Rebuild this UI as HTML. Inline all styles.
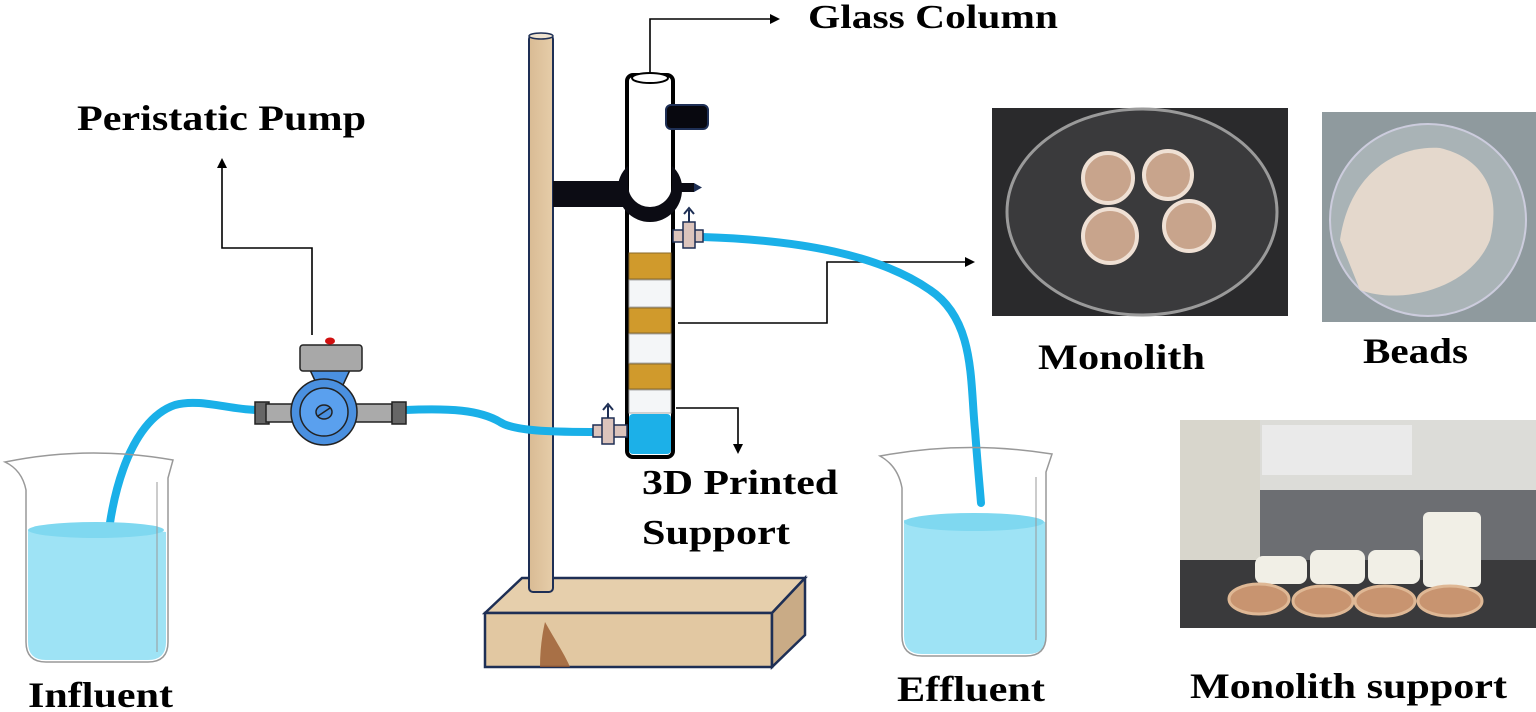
<!DOCTYPE html>
<html><head><meta charset="utf-8"><style>
html,body{margin:0;padding:0;background:#fff;width:1536px;height:712px;overflow:hidden}
svg{display:block}
text{font-family:"Liberation Serif",serif;font-weight:bold;fill:#000}
</style></head><body>
<svg width="1536" height="712" viewBox="0 0 1536 712" xmlns="http://www.w3.org/2000/svg">
<defs>
<marker id="ah" markerWidth="10" markerHeight="10" refX="8" refY="5" orient="auto" markerUnits="userSpaceOnUse">
<path d="M0,0 L10,5 L0,10 z" fill="#000"/></marker>
<linearGradient id="wood" x1="0" x2="1"><stop offset="0" stop-color="#d9bb94"/><stop offset="1" stop-color="#e6cda9"/></linearGradient>
</defs>

<!-- labels -->
<text x="808" y="28" font-size="34" textLength="250" lengthAdjust="spacingAndGlyphs">Glass Column</text>
<text x="77" y="130" font-size="36" textLength="289" lengthAdjust="spacingAndGlyphs">Peristatic Pump</text>
<text x="642" y="494" font-size="35" textLength="196" lengthAdjust="spacingAndGlyphs">3D Printed</text>
<text x="642" y="544" font-size="35" textLength="148" lengthAdjust="spacingAndGlyphs">Support</text>
<text x="1038" y="369" font-size="36" textLength="167" lengthAdjust="spacingAndGlyphs">Monolith</text>
<text x="1363" y="363" font-size="36" textLength="105" lengthAdjust="spacingAndGlyphs">Beads</text>
<text x="1190" y="698" font-size="36" textLength="317" lengthAdjust="spacingAndGlyphs">Monolith support</text>
<text x="28" y="707" font-size="36" textLength="145" lengthAdjust="spacingAndGlyphs">Influent</text>
<text x="897" y="701" font-size="36" textLength="148" lengthAdjust="spacingAndGlyphs">Effluent</text>

<!-- connectors -->
<g stroke="#000" stroke-width="1.6" fill="none">
<path d="M650,75 V19 H778" marker-end="url(#ah)"/>
<path d="M312,335 V248 H222 V160" marker-end="url(#ah)"/>
<path d="M678,323 H827 V262 H973" marker-end="url(#ah)"/>
<path d="M676,408 H738 V452" marker-end="url(#ah)"/>
</g>

<!-- base -->
<g stroke="#1e2f55" stroke-width="2.5">
<path d="M485,613 L522,578 L805,578 L772,613 Z" fill="#e6cfac"/>
<rect x="485" y="613" width="287" height="54" fill="#e2c8a2"/>
<path d="M772,613 L805,578 L805,635 L772,667 Z" fill="#c9ab86"/>
</g>
<path d="M545,622 C555,640 565,655 570,667 L540,667 C540,650 542,635 545,622Z" fill="#9a5a30" opacity="0.8"/>
<!--- pole -->
<rect x="529" y="35" width="24" height="557" rx="4" fill="url(#wood)" stroke="#1e2f55" stroke-width="2"/>
<ellipse cx="541" cy="36" rx="12" ry="3" fill="#efe3d0" stroke="#1e2f55" stroke-width="1.5"/>

<!-- clamp arm -->
<rect x="553" y="181" width="72" height="26" fill="#0c0c14"/>
<!-- column -->
<rect x="627" y="75" width="46" height="382" rx="6" fill="#fff" stroke="#000" stroke-width="4"/>
<ellipse cx="650" cy="78" rx="18" ry="5" fill="#fff" stroke="#000" stroke-width="2"/>
<rect x="666" y="105" width="42" height="24" rx="5" fill="#08080f" stroke="#1e2f55" stroke-width="2"/>
<!-- ring clamp -->
<path d="M618,190 A32,32 0 0 0 682,190 A32,30 0 0 0 672,166 L672,185 A22,22 0 0 1 628,185 L628,166 A32,30 0 0 0 618,190Z" fill="#0c0c14"/>
<rect x="676" y="183" width="18" height="9" fill="#0c0c14"/>
<path d="M694,183 L702,187.5 L694,192Z" fill="#1e2f55"/>
<!-- layers -->
<rect x="629" y="253" width="42" height="26" fill="#d09a2c" stroke="#8a6a2a"/>
<rect x="629" y="280" width="42" height="27" fill="#f4f6f8" stroke="#aaa"/>
<rect x="629" y="308" width="42" height="25" fill="#d09a2c" stroke="#8a6a2a"/>
<rect x="629" y="334" width="42" height="29" fill="#f4f6f8" stroke="#aaa"/>
<rect x="629" y="364" width="42" height="25" fill="#d09a2c" stroke="#8a6a2a"/>
<rect x="629" y="390" width="42" height="23" fill="#f4f6f8" stroke="#aaa"/>
<rect x="629" y="414" width="42" height="40" rx="4" fill="#1cb0e8"/>

<!-- tubing -->
<g stroke="#1ab0e8" stroke-width="8" fill="none" stroke-linecap="round">
<path d="M105,590 C105,500 130,420 175,405 C200,398 230,410 258,410"/>
<path d="M405,410 C450,408 480,410 500,422 C515,432 560,432 600,432"/>
<path d="M702,237 C800,240 880,255 930,290 C975,320 970,380 975,430 C978,470 980,490 981,503"/>
</g>
<!-- valves -->
<g fill="#dcc4bc" stroke="#1e2f55" stroke-width="1.5">
<rect x="593" y="425" width="34" height="12"/><rect x="602" y="418" width="12" height="26"/>
<rect x="673" y="230" width="30" height="12"/><rect x="683" y="222" width="12" height="26"/>
</g>
<path d="M608,418 V406 M603,410 L608,404 L613,410 M689,222 V210 M684,214 L689,208 L694,214" stroke="#1e2f55" stroke-width="2" fill="none"/>

<!-- pump -->
<g stroke="#222" stroke-width="1.5">
<rect x="255" y="402" width="14" height="22" fill="#666"/>
<rect x="266" y="404" width="40" height="18" fill="#aaa"/>
<rect x="344" y="404" width="48" height="18" fill="#aaa"/>
<rect x="392" y="402" width="14" height="22" fill="#666"/>
<path d="M310,370 L350,370 L343,385 L317,385Z" fill="#4a90e0"/>
<circle cx="324" cy="412" r="33" fill="#4a90e0"/>
<circle cx="324" cy="412" r="24" fill="#5aa0ee"/>
<ellipse cx="324" cy="412" rx="8" ry="7" fill="#4a90e0"/>
<rect x="300" y="345" width="62" height="26" rx="3" fill="#a8a8a8"/>
</g>
<ellipse cx="330" cy="341" rx="5" ry="3.5" fill="#d01010"/>
<line x1="318" y1="416" x2="330" y2="408" stroke="#222" stroke-width="1.5"/>

<!-- beakers -->
<g>
<path d="M28,530 Q90,522 166,532 L166,642 Q166,660 148,660 L46,660 Q28,660 28,642Z" fill="#9ee3f5"/>
<ellipse cx="96" cy="530" rx="68" ry="8" fill="#7fd8f0"/>
<path d="M5,462 Q88,445 173,460 L168,478 L168,642 Q168,662 148,662 L46,662 Q26,662 26,642 L26,490 Q22,470 5,462Z" fill="none" stroke="#999" stroke-width="1.5"/>
<line x1="157" y1="482" x2="157" y2="652" stroke="#999"/>
<path d="M904,520 Q970,512 1046,522 L1046,636 Q1046,654 1028,654 L922,654 Q904,654 904,636Z" fill="#9ee3f5"/>
<ellipse cx="974" cy="522" rx="70" ry="9" fill="#7fd8f0"/>
<path d="M880,456 Q965,440 1052,454 L1046,472 L1046,636 Q1046,656 1026,656 L922,656 Q902,656 902,636 L902,488 Q898,466 880,456Z" fill="none" stroke="#999" stroke-width="1.5"/>
<line x1="1036" y1="477" x2="1036" y2="640" stroke="#999"/>
</g>

<!-- monolith photo -->
<rect x="992" y="108" width="296" height="208" fill="#2a2a2c"/>
<ellipse cx="1142" cy="212" rx="135" ry="103" fill="#3a3a3c" stroke="#9a9a9a" stroke-width="3"/>
<g fill="#c8a48c" stroke="#efe0d4" stroke-width="4">
<circle cx="1108" cy="178" r="25"/><circle cx="1168" cy="175" r="24"/>
<circle cx="1110" cy="236" r="27"/><circle cx="1189" cy="226" r="25"/>
</g>
<!-- beads photo -->
<rect x="1322" y="112" width="214" height="210" fill="#8f9a9e"/>
<ellipse cx="1428" cy="220" rx="98" ry="96" fill="#a9b3b6" stroke="#ccd" stroke-width="2"/>
<path d="M1340,240 C1350,170 1400,145 1440,148 C1490,160 1500,200 1490,240 C1470,290 1400,305 1360,290Z" fill="#e4d8cc"/>
<!-- monolith support photo -->
<rect x="1180" y="420" width="356" height="208" fill="#6c6e72"/>
<rect x="1180" y="420" width="356" height="70" fill="#dcdcd8"/>
<rect x="1180" y="420" width="80" height="150" fill="#d8d6cc"/>
<rect x="1262" y="425" width="150" height="50" fill="#eaeaea"/>
<rect x="1180" y="560" width="356" height="68" fill="#3a3a3c"/>
<g fill="#f1efe6">
<rect x="1423" y="512" width="58" height="75" rx="6"/>
<rect x="1255" y="556" width="52" height="28" rx="8"/>
<rect x="1310" y="550" width="55" height="34" rx="8"/>
<rect x="1368" y="550" width="52" height="34" rx="8"/>
</g>
<g fill="#c89470" stroke="#dfb895" stroke-width="3">
<ellipse cx="1259" cy="599" rx="30" ry="15"/><ellipse cx="1323" cy="601" rx="30" ry="15"/>
<ellipse cx="1385" cy="601" rx="30" ry="15"/><ellipse cx="1450" cy="601" rx="32" ry="15"/>
</g>
</svg>
</body></html>
